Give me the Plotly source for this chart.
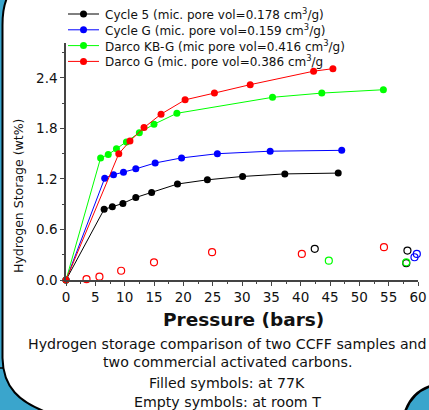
import plotly.graph_objects as go

# ---------------- data ----------------
cycle5_p = [0, 6.5, 7.9, 9.7, 11.9, 14.6, 19.0, 24.1, 30.1, 37.3, 46.4]
cycle5_h = [0, 0.84, 0.87, 0.91, 0.98, 1.04, 1.14, 1.19, 1.23, 1.26, 1.27]

cycleG_p = [0, 6.6, 8.1, 9.8, 11.9, 15.2, 19.7, 25.8, 34.8, 47.0]
cycleG_h = [0, 1.21, 1.25, 1.28, 1.32, 1.39, 1.45, 1.50, 1.53, 1.54]

kbg_p = [0, 5.9, 7.2, 8.6, 10.3, 12.5, 15.0, 18.9, 35.2, 43.6, 54.1]
kbg_h = [0, 1.45, 1.49, 1.56, 1.64, 1.75, 1.85, 1.98, 2.17, 2.22, 2.26]

darcoG_p = [0, 9.0, 10.9, 13.3, 16.2, 20.3, 25.3, 31.4, 42.2, 45.5]
darcoG_h = [0, 1.50, 1.65, 1.81, 1.97, 2.14, 2.22, 2.32, 2.48, 2.51]

# room temperature (open symbols)
cycle5_rt_p = [42.4, 58.2, 58.0]
cycle5_rt_h = [0.37, 0.35, 0.20]
cycleG_rt_p = [59.4, 59.8]
cycleG_rt_h = [0.27, 0.31]
kbg_rt_p = [44.8, 58.0]
kbg_rt_h = [0.23, 0.21]
darcoG_rt_p = [3.5, 5.7, 9.4, 15.0, 24.9, 40.2, 54.2]
darcoG_rt_h = [0.01, 0.04, 0.11, 0.21, 0.33, 0.31, 0.39]

labels = [
    "Cycle 5 (mic. pore vol=0.178 cm<sup>3</sup>/g)",
    "Cycle G (mic. pore vol=0.159 cm<sup>3</sup>/g)",
    "Darco KB-G (mic pore vol=0.416 cm<sup>3</sup>/g)",
    "Darco G (mic. pore vol=0.386 cm<sup>3</sup>/g",
]
colors = ["#000000", "#0000ff", "#00ff00", "#ff0000"]

x_ticks = list(range(0, 61, 5))
y_ticks = [0.0, 0.6, 1.2, 1.8, 2.4]

caption = [
    "Hydrogen storage comparison of two CCFF samples and",
    "two commercial activated carbons.",
    "Filled symbols: at 77K",
    "Empty symbols: at room T",
]

FONT = "DejaVu Sans, Arial, sans-serif"
BLUE = "#3aa5cc"

W, H = 429, 410
L, R, T, B = 66, 11, 43, 130
PW, PH = W - L - R, H - T - B


def fx(px):
    return (px - L) / PW


def fy(py):
    return (H - B - py) / PH


def path(points):
    s = ""
    for cmd, pts in points:
        s += cmd + " " + " ".join(f"{fx(a):.5f},{fy(b):.5f}" for a, b in pts) + " "
    return s


fig = go.Figure()

filled = [(cycle5_p, cycle5_h), (cycleG_p, cycleG_h), (kbg_p, kbg_h), (darcoG_p, darcoG_h)]
opened = [(cycle5_rt_p, cycle5_rt_h), (cycleG_rt_p, cycleG_rt_h), (kbg_rt_p, kbg_rt_h), (darcoG_rt_p, darcoG_rt_h)]

for (px_, py_), c in zip(opened, colors):
    fig.add_trace(go.Scatter(x=px_, y=py_, mode="markers", showlegend=False, cliponaxis=False,
                             marker=dict(symbol="circle-open", size=7, color=c, line=dict(width=1.2))))
for (px_, py_), c in zip(filled, colors):
    fig.add_trace(go.Scatter(x=px_, y=py_, mode="lines+markers", showlegend=False, cliponaxis=False,
                             line=dict(color=c, width=1),
                             marker=dict(symbol="circle", size=7, color=c)))

# ---------- background decoration ----------
shapes = []
shapes.append(dict(type="path", xref="paper", yref="paper", layer="below",
                   path=path([("M", [(-2, -2)]), ("L", [(7, -2)]), ("Q", [(2.5, 8), (2.5, 25)]),
                              ("L", [(2.5, 358)]), ("C", [(3, 388), (20, 402), (46, 412)]),
                              ("L", [(-2, 412)])]) + "Z",
                   fillcolor=BLUE, line=dict(width=0)))
shapes.append(dict(type="path", xref="paper", yref="paper", layer="below",
                   path=path([("M", [(7, -2)]), ("Q", [(2.5, 8), (2.5, 25)]),
                              ("L", [(2.5, 358)]), ("C", [(3, 388), (20, 402), (46, 412)])]),
                   line=dict(color="black", width=2)))
shapes.append(dict(type="path", xref="paper", yref="paper", layer="below",
                   path=path([("M", [(-2, 368)]), ("L", [(3, 368)])]),
                   line=dict(color="black", width=1.5)))
shapes.append(dict(type="path", xref="paper", yref="paper", layer="below",
                   path=path([("M", [(405, 412)]), ("Q", [(412, 392), (431, 386)]),
                              ("L", [(431, 412)])]) + "Z",
                   fillcolor=BLUE, line=dict(width=0)))
shapes.append(dict(type="path", xref="paper", yref="paper", layer="below",
                   path=path([("M", [(405, 412)]), ("Q", [(412, 392), (431, 386)])]),
                   line=dict(color="black", width=2.5)))

# ---------- manual legend ----------
annotations = []
leg_y0, leg_dy = 14, 15.8
for i, (lab, c) in enumerate(zip(labels, colors)):
    yy = leg_y0 + i * leg_dy
    shapes.append(dict(type="line", xref="paper", yref="paper",
                       x0=fx(68), x1=fx(99), y0=fy(yy), y1=fy(yy),
                       line=dict(color=c, width=1)))
    r = 3.5
    shapes.append(dict(type="circle", xref="paper", yref="paper",
                       x0=fx(83.5 - r), x1=fx(83.5 + r), y0=fy(yy + r), y1=fy(yy - r),
                       fillcolor=c, line=dict(color=c, width=0)))
    annotations.append(dict(xref="paper", yref="paper", x=fx(103), y=fy(yy),
                            xanchor="left", yanchor="middle", showarrow=False,
                            text=lab, font=dict(family=FONT, size=12, color="#111")))

annotations.append(dict(xref="paper", yref="paper", x=fx(243.5), y=fy(319),
                        xanchor="center", yanchor="middle", showarrow=False,
                        text="<b>Pressure (bars)</b>", font=dict(family=FONT, size=18.5, color="#111")))
annotations.append(dict(xref="paper", yref="paper", x=fx(18), y=fy(196),
                        xanchor="center", yanchor="middle", showarrow=False, textangle=-90,
                        text="Hydrogen Storage (wt%)", font=dict(family=FONT, size=12.5, color="#111")))
cap_y = [343.7, 362.3, 383, 401.7]
for t, yy in zip(caption, cap_y):
    annotations.append(dict(xref="paper", yref="paper", x=fx(227), y=fy(yy),
                            xanchor="center", yanchor="middle", showarrow=False,
                            text=t, font=dict(family=FONT, size=14.2, color="#111")))

fig.update_layout(
    width=W, height=H,
    margin=dict(l=L, r=R, t=T, b=B, autoexpand=False),
    paper_bgcolor="white", plot_bgcolor="rgba(0,0,0,0)",
    showlegend=False,
    shapes=shapes, annotations=annotations,
    font=dict(family=FONT),
    xaxis=dict(range=[0, 60], tickvals=x_ticks, showgrid=False, zeroline=False,
               showline=True, linecolor="#444", linewidth=1.5,
               ticks="outside", ticklen=4, tickcolor="#444", tickwidth=1,
               minor=dict(dtick=2.5, ticks="outside", ticklen=2, tickcolor="#444", showgrid=False),
               tickfont=dict(family=FONT, size=13.5, color="#111")),
    yaxis=dict(range=[0, 2.815], tickvals=y_ticks, tickformat=".1f", showgrid=False, zeroline=False,
               showline=True, linecolor="#444", linewidth=1.5,
               ticks="outside", ticklen=4, tickcolor="#444", tickwidth=1,
               minor=dict(dtick=0.3, ticks="outside", ticklen=2, tickcolor="#444", showgrid=False),
               tickfont=dict(family=FONT, size=13.5, color="#111")),
)

fig.write_html("out.html", config={"displayModeBar": False},
               post_script="document.body.style.margin='0';document.body.style.overflow='hidden';")
